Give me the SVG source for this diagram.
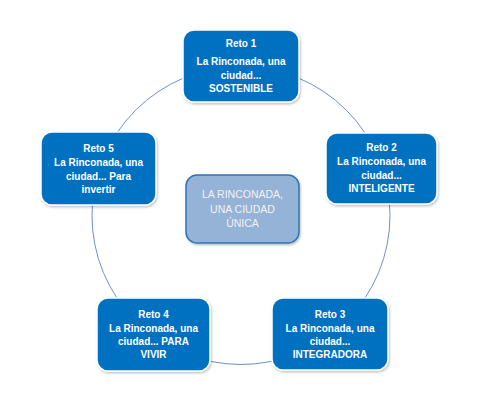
<svg xmlns="http://www.w3.org/2000/svg" width="486" height="406" viewBox="0 0 486 406">
<style>
.box{fill:#0070C0;stroke:#FFFFFF;stroke-width:1.5;filter:url(#sh)}
.ctr{fill:#95B3D7;stroke:#2E75B6;stroke-width:1.5;filter:url(#sh)}
.t{font-family:"Liberation Sans",Arial,sans-serif;font-size:10px;font-weight:bold;fill:#FFFFFF;text-anchor:middle}
.tc{font-family:"Liberation Sans",Arial,sans-serif;font-size:10.5px;fill:#F2F2F2;text-anchor:middle}
.ring{fill:none;stroke:#6F8FC8;stroke-width:1}
</style>
<defs>
<filter id="sh" x="-10%" y="-10%" width="125%" height="130%">
<feDropShadow dx="1" dy="1.5" stdDeviation="1.2" flood-color="#000000" flood-opacity="0.25"/>
</filter>
</defs>
<rect width="486" height="406" fill="#FFFFFF"/>
<g id="connectors">
<circle class="ring" cx="241" cy="215.5" r="149"/>
</g>
<g id="reto1">
<rect class="box" x="183" y="30" width="116" height="72" rx="11"/>
<text class="t" x="241" y="47">Reto 1</text>
<text class="t" x="241" y="65">La Rinconada, una</text>
<text class="t" x="241" y="78.5">ciudad...</text>
<text class="t" x="241" y="92">SOSTENIBLE</text>
</g>
<g id="reto2">
<rect class="box" x="326" y="133" width="111" height="71" rx="11"/>
<text class="t" x="381.5" y="151">Reto 2</text>
<text class="t" x="381.5" y="165">La Rinconada, una</text>
<text class="t" x="381.5" y="178.5">ciudad...</text>
<text class="t" x="381.5" y="192">INTELIGENTE</text>
</g>
<g id="reto3">
<rect class="box" x="272" y="298" width="116" height="72" rx="11"/>
<text class="t" x="330" y="318">Reto 3</text>
<text class="t" x="330" y="331.5">La Rinconada, una</text>
<text class="t" x="330" y="345">ciudad...</text>
<text class="t" x="330" y="358">INTEGRADORA</text>
</g>
<g id="reto4">
<rect class="box" x="97" y="298" width="113" height="73" rx="11"/>
<text class="t" x="153.5" y="318">Reto 4</text>
<text class="t" x="153.5" y="331.5">La Rinconada, una</text>
<text class="t" x="153.5" y="345">ciudad... PARA</text>
<text class="t" x="153.5" y="358">VIVIR</text>
</g>
<g id="reto5">
<rect class="box" x="41" y="132" width="115" height="73" rx="11"/>
<text class="t" x="98.5" y="152">Reto 5</text>
<text class="t" x="98.5" y="166">La Rinconada, una</text>
<text class="t" x="98.5" y="180">ciudad... Para</text>
<text class="t" x="98.5" y="193">invertir</text>
</g>
<g id="centro">
<rect class="ctr" x="186" y="175" width="113" height="68" rx="11"/>
<text class="tc" x="242.5" y="198">LA RINCONADA,</text>
<text class="tc" x="242.5" y="212.5">UNA CIUDAD</text>
<text class="tc" x="242.5" y="226.5">ÚNICA</text>
</g>
</svg>
